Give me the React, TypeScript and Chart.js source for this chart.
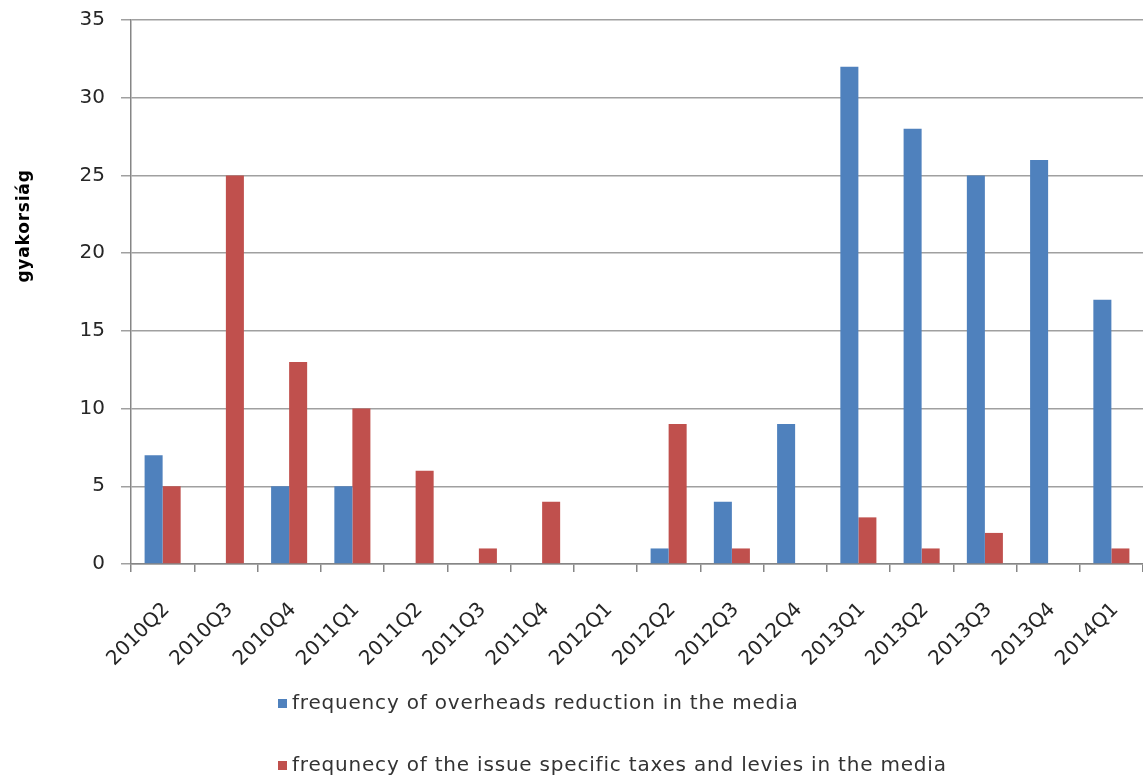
import React, { useEffect, useRef } from "react";
import { Chart, registerables } from "chart.js";

Chart.register(...registerables);

const categories = [
  "2010Q2", "2010Q3", "2010Q4", "2011Q1", "2011Q2", "2011Q3", "2011Q4", "2012Q1",
  "2012Q2", "2012Q3", "2012Q4", "2013Q1", "2013Q2", "2013Q3", "2013Q4", "2014Q1",
];
const overheadsValues = [7, 0, 5, 5, 0, 0, 0, 0, 1, 4, 9, 32, 28, 25, 26, 17];
const taxesValues = [5, 25, 13, 10, 6, 1, 4, 0, 9, 1, 0, 3, 1, 2, 0, 1];
const seriesLabels = [
  "frequency of overheads reduction in the media",
  "frequnecy of the issue specific taxes and levies in the media",
];
const yAxisTitle = "gyakorsiág";
const yTicks = [0, 5, 10, 15, 20, 25, 30, 35];

const BLUE = "#4F81BD";
const RED = "#C0504D";
const FONT = "'DejaVu Sans', sans-serif";

const extrasPlugin = {
  id: "extras",
  afterDraw(chart: any) {
    const ctx = chart.ctx as CanvasRenderingContext2D;
    ctx.save();
    // y axis title
    ctx.translate(25, 226);
    ctx.rotate(-Math.PI / 2);
    ctx.font = `bold 17px ${FONT}`;
    (ctx as any).letterSpacing = "0.8px";
    ctx.fillStyle = "#000";
    ctx.textAlign = "center";
    ctx.textBaseline = "middle";
    ctx.fillText(yAxisTitle, 0, 0);
    ctx.restore();

    // legend
    ctx.save();
    const rows = [704, 766];
    const colors = [BLUE, RED];
    ctx.font = `20px ${FONT}`;
    (ctx as any).letterSpacing = "0.8px";
    ctx.textBaseline = "middle";
    ctx.textAlign = "left";
    rows.forEach((y, i) => {
      ctx.fillStyle = colors[i];
      ctx.fillRect(278, y - 5, 9, 9);
      ctx.fillStyle = "#333";
      ctx.fillText(chart.data.datasets[i].label, 292, y);
    });
    ctx.restore();
  },
};

export default function App() {
  const ref = useRef<HTMLCanvasElement>(null);
  useEffect(() => {
    if (!ref.current) return;
    const chart = new Chart(ref.current, {
      type: "bar",
      data: {
        labels: categories,
        datasets: [
          { label: seriesLabels[0], data: overheadsValues, backgroundColor: BLUE },
          { label: seriesLabels[1], data: taxesValues, backgroundColor: RED },
        ],
      },
      options: {
        responsive: false,
        animation: false,
        layout: { padding: { top: 20, left: 0, right: 0, bottom: 0 } },
        plugins: { legend: { display: false }, tooltip: { enabled: false } },
        datasets: { bar: { categoryPercentage: 0.57, barPercentage: 1 } },
        scales: {
          x: {
            grid: {
              drawOnChartArea: false,
              drawTicks: true,
              tickLength: 8,
              color: "#868686",
              lineWidth: 1.5,
            },
            border: { color: "#868686", width: 1.5 },
            ticks: {
              autoSkip: false,
              minRotation: 45,
              maxRotation: 45,
              padding: 26,
              labelOffset: 4,
              color: "#262626",
              font: { family: FONT, size: 20 },
            },
            afterFit: (s: any) => {
              s.height = 214;
              s.paddingLeft = 0;
              s.paddingRight = 0;
            },
          },
          y: {
            min: 0,
            max: 35,
            afterBuildTicks: (s: any) => {
              s.ticks = yTicks.map((v) => ({ value: v }));
            },
            grid: {
              color: "#A0A0A0",
              lineWidth: 1.5,
              tickLength: 10,
            },
            border: { color: "#868686", width: 1.5 },
            ticks: {
              padding: 16,
              color: "#262626",
              font: { family: FONT, size: 20 },
            },
            afterFit: (s: any) => {
              s.width = 131;
              s.paddingTop = 0;
              s.paddingBottom = 0;
            },
          },
        },
      },
      plugins: [extrasPlugin],
    });
    return () => chart.destroy();
  }, []);
  return (
    <div style={{ position: "fixed", left: 0, top: 0, width: 1143, height: 778, background: "#fff" }}>
      <canvas ref={ref} width={1143} height={778} style={{ display: "block" }} />
    </div>
  );
}
